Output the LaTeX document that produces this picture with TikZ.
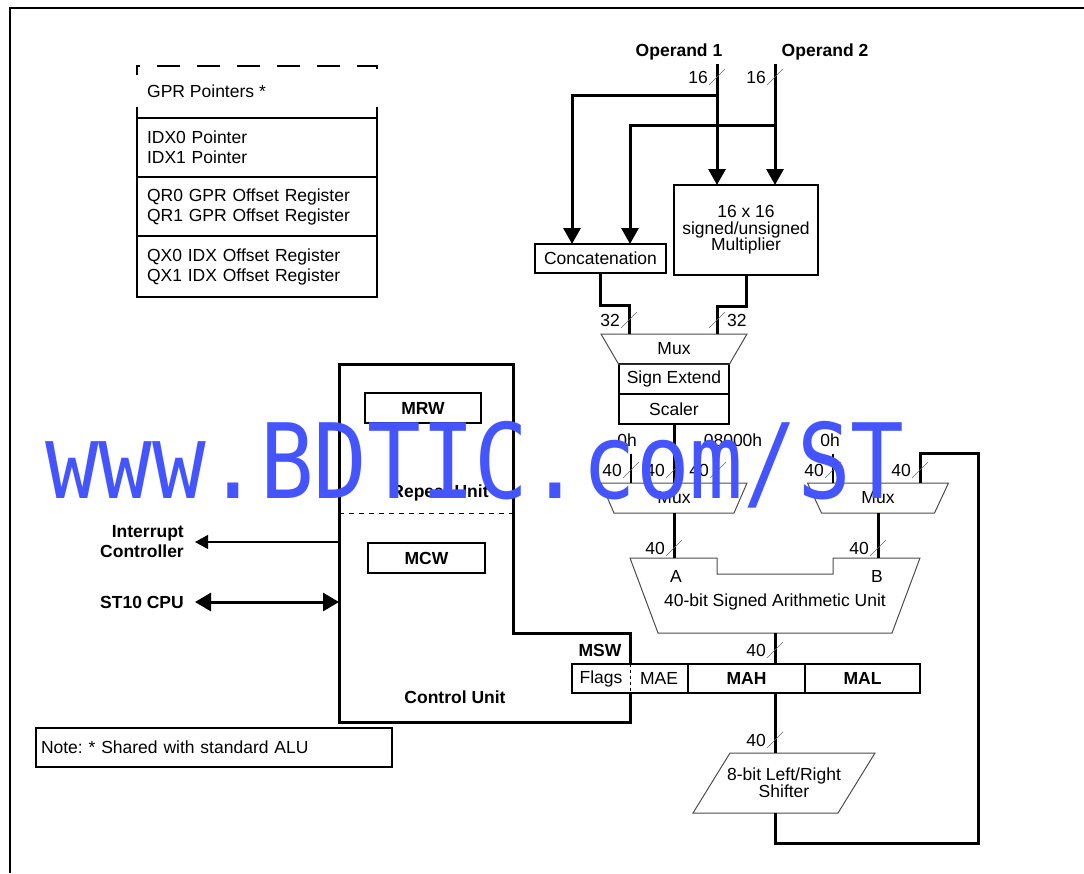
\documentclass[tikz,border=0pt]{standalone}
\usepackage{fontspec}
\setmainfont{Liberation Sans}
\newfontfamily\wmfont{DejaVu Sans Mono}
\usepackage{graphicx}
\usetikzlibrary{arrows.meta, calc, positioning}
\definecolor{wmblue}{HTML}{4455FF}
\frenchspacing

\begin{document}
\begin{tikzpicture}[x=1pt, y=-1pt, font=\fontsize{17.5}{20}\selectfont,
    thinbox/.style={draw, line width=1.2pt, inner sep=0pt, outer sep=0pt, minimum height=30pt},
    cell/.style={draw, line width=2.5pt, minimum width=240pt, minimum height=59pt, text width=220pt, align=left, inner sep=0pt, outer sep=0pt},
    reg/.style={draw, line width=1.2pt, minimum height=29pt, inner sep=0pt, outer sep=0pt},
    mux/.style={minimum height=30pt, inner sep=0pt, outer sep=0pt},
    boldtext/.style={font=\fontsize{17.5}{20}\selectfont\bfseries},
    bus/.style={line width=3pt},
    wire/.style={line width=1.2pt},
    busarrow/.style={bus, -{Triangle[length=16pt, width=17pt]}},
    widthslash/.style={black!60, line width=0.6pt},
    muxline/.style={black!70, line width=1pt}]

    \useasboundingbox (0,0) rectangle (1084,873);
    \draw[line width=2.5pt] (10,873) -- (10,8) -- (1084,8);

    % register pointers
    \node[cell] (idx) at (257,147.5) {IDX0 Pointer\\IDX1 Pointer};
    \node[cell, below=0pt of idx] (qr) {QR0 GPR Offset Register\\QR1 GPR Offset Register};
    \node[cell, below=0pt of qr, minimum height=61pt] (qx) {QX0 IDX Offset Register\\QX1 IDX Offset Register};
    \node[inner sep=0pt, anchor=west] (gpr) at (147,91) {GPR Pointers *};
    \draw[line width=2.5pt] (idx.north west) -- ++(0,-11) (idx.north east) -- ++(0,-11);
    \draw[line width=2.5pt, dash pattern=on 23pt off 17pt, dash phase=11pt] ($(idx.north west)+(0,-43)$) -- ++(0,-9) -- ++(240,0) -- ++(0,9);

    % operands and first stage
    \node[boldtext] (op1) at (679,52) {Operand 1};
    \node[boldtext] (op2) at (825,52) {Operand 2};
    \coordinate (in1) at (717,64);
    \coordinate (in2) at (775,64);
    \node[thinbox, minimum width=144pt, minimum height=90pt, align=center, font=\fontsize{17.5}{16.5}\selectfont] (mult) at (746,230) {16 x 16\\signed/unsigned\\Multiplier};
    \node[thinbox, minimum width=131pt, minimum height=29pt] (conc) at (600.5,258.5) {Concatenation};

    \draw[busarrow] (in1) -- (in1 |- mult.north);
    \draw[busarrow] (in2) -- (in2 |- mult.north);
    \draw[busarrow] (in1 |- 0,95) -| ([xshift=-28.5pt]conc.north);
    \draw[busarrow] (in2 |- 0,125) -| ([xshift=29.5pt]conc.north);

    % mux, sign extend, scaler
    \node[mux, minimum width=146pt] (mux1) at (674,349) {Mux};
    \node[thinbox, minimum width=110pt, below=0pt of mux1] (sext) {Sign Extend};
    \node[thinbox, minimum width=110pt, below=0pt of sext] (scal) {Scaler};
    \draw[muxline] (mux1.north west) -- (mux1.north east) -- ([xshift=-17.5pt]mux1.south east) -- ([xshift=17.5pt]mux1.south west) -- cycle;
    \draw[bus] (conc.south) -- ++(0,32) -| ([xshift=-45pt]mux1.north);
    \draw[bus] (mult.south) -- ++(0,31) -| ([xshift=43pt]mux1.north);

    % second stage muxes
    \node[mux, minimum width=146pt] (muxa) at (674,498) {Mux};
    \node[mux, minimum width=141pt] (muxb) at (878,498) {Mux};
    \draw[muxline] (muxa.north west) -- (muxa.north east) -- ([xshift=-13pt]muxa.south east) -- ([xshift=13pt]muxa.south west) -- cycle;
    \draw[muxline] (muxb.north west) -- (muxb.north east) -- ([xshift=-14pt]muxb.south east) -- ([xshift=14pt]muxb.south west) -- cycle;
    \node[inner sep=0pt] (k0a) at (627,440) {0h};
    \node[inner sep=0pt] (k8) at (733,440) {08000h};
    \node[inner sep=0pt] (k0b) at (830,440) {0h};
    \draw[wire] (k0a.south) ++(4,7) -- ([xshift=-43pt]muxa.north);
    \draw[wire] (k8.south) ++(-15,7) -- ([xshift=44pt]muxa.north);
    \draw[wire] (k0b.south) ++(3,7) -- ([xshift=-45pt]muxb.north);
    \draw[bus] (scal.south) -- (scal.south |- muxa.north);

    % arithmetic unit
    \node[mux, minimum width=290pt, minimum height=75pt] (alu) at (775,595.5) {};
    \node (alutext) at (775,602) {40-bit Signed Arithmetic Unit};
    \node (pa) at (676,576) {A};
    \node (pb) at (877,576) {B};
    \draw[muxline] (alu.north west) -- ([xshift=-58pt]alu.north) -- ++(0,16) -- ++(116,0) -- ([xshift=58pt]alu.north) -- (alu.north east) -- ([xshift=-28pt]alu.south east) -- ([xshift=28pt]alu.south west) -- cycle;
    \draw[bus] (muxa.south) -- (muxa.south |- alu.north);
    \draw[bus] (muxb.south) -- (muxb.south |- alu.north);

    % accumulator
    \node[reg, minimum width=117pt, boldtext] (mah) at (746.5,678.5) {MAH};
    \node[reg, minimum width=115pt, boldtext, right=0pt of mah] (mal) {MAL};
    \node[reg, draw=none, minimum width=58pt, left=0pt of mah] (mae) {MAE};
    \node[reg, draw=none, minimum width=58pt, left=0pt of mae] (flags) {Flags};
    \draw[line width=1.2pt] (mah.north west) -- (flags.north west) -- (flags.south west) -- (mah.south west);
    \draw[line width=0.8pt, dash pattern=on 3pt off 3pt] (flags.north east) -- (flags.south east);
    \node[boldtext] (msw) at (600,650) {MSW};
    \draw[bus] (alu.south) -- (alu.south |- mah.north);

    % shifter
    \node[mux, minimum width=182pt, minimum height=60pt, align=center, font=\fontsize{17.5}{17}\selectfont] (shft) at (784,783) {8-bit Left/Right\\Shifter};
    \draw[muxline] ([xshift=37pt]shft.north west) -- (shft.north east) -- ([xshift=-37pt]shft.south east) -- (shft.south west) -- cycle;
    \draw[bus] (alu.south |- mah.south) -- (alu.south |- shft.north);
    \coordinate (fb) at (978,453);
    \draw[bus] (alu.south |- shft.south) -- ++(0,30) -| (fb) -| ([xshift=42pt]muxb.north);

    % control unit
    \coordinate (cunw) at (339,364);
    \coordinate (cune) at (513,364);
    \coordinate (cusw) at (339,722);
    \draw[bus] (flags.north east) |- (cune |- 0,633) -- (cune) -- (cunw) -- (cusw) -| (flags.south east);
    \node[thinbox, minimum width=116pt, boldtext] (mrw) at (423,408) {MRW};
    \node[boldtext] (rpt) at (440,493) {Repeat Unit};
    \draw[line width=1pt, dash pattern=on 5pt off 5pt] (cunw |- 0,513) -- (cune |- 0,513);
    \node[thinbox, minimum width=117pt, boldtext] (mcw) at (426.5,558) {MCW};
    \node[boldtext] (ctl) at (455,697) {Control Unit};

    % outside connections
    \node[boldtext, align=right, anchor=east, inner sep=0pt] (intc) at (184,542) {Interrupt\\Controller};
    \draw[wire, -{Triangle[length=13pt, width=14pt]}] (cunw |- intc.east) -- ([xshift=11pt]intc.east);
    \node[boldtext, anchor=east, inner sep=0pt] (cpu) at (184,602) {ST10 CPU};
    \draw[bus, {Triangle[length=16pt, width=18pt]}-{Triangle[length=16pt, width=18pt]}] ([xshift=11pt]cpu.east) -- (cunw |- cpu.east);

    \node[draw, line width=2.5pt, minimum width=356pt, minimum height=39pt, text width=346pt, align=left, inner sep=0pt] (note) at (214,747.5) {Note: * Shared with standard ALU};

    % bus widths
    \foreach \x/\y/\w [count=\i] in {717/77/16, 775/77/16, 629/320/32, 631/470/40, 674/470/40, 718/470/40, 833/470/40, 920/470/40, 674/548/40, 878/548/40, 775/650/40, 775/740/40}{
        \draw[widthslash] (\x-8,\y+8) -- (\x+8,\y-8);
        \node[inner sep=0pt, anchor=east] (w\i) at (\x-9,\y) {\w};
    }
    \draw[widthslash] (709,328) -- (725,312);
    \node[inner sep=0pt, anchor=west] (w13) at (727,320) {32};

    \node[anchor=base west, inner sep=0pt, text=wmblue, font=\wmfont\fontsize{104}{104}\selectfont] (wm) at (45,498) {\scalebox{0.858}[1]{www.BDTIC.com/ST}};
\end{tikzpicture}
\end{document}
